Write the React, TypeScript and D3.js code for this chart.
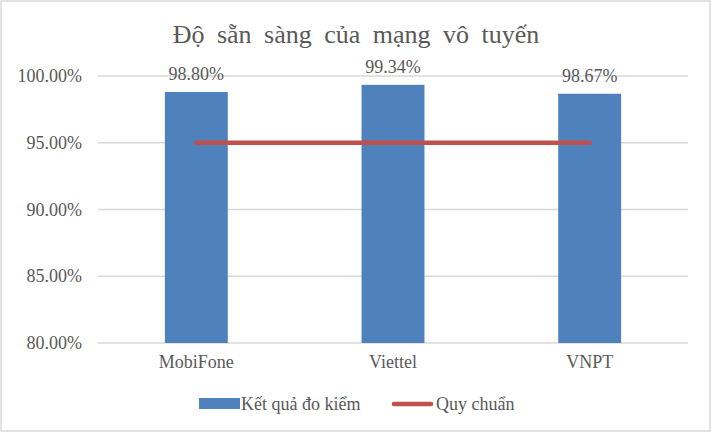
import { useMemo } from "react";
import * as d3 from "d3";

const width = 712;
const height = 434;
const margin = { top: 76, right: 24, bottom: 91, left: 98 };

const title = "Độ sẵn sàng của mạng vô tuyến";
const categories = ["MobiFone", "Viettel", "VNPT"];
const results = [98.8, 99.34, 98.67];
const standard = [95, 95, 95];
const yTicks = [80, 85, 90, 95, 100];
const legendLabels = ["Kết quả đo kiểm", "Quy chuẩn"];

const textColor = "#595959";
const gridColor = "#d9d9d9";
const barColor = "#4f81bd";
const lineColor = "#c0504d";
const font = '"Times New Roman", Times, "Liberation Serif", "DejaVu Serif", serif';

const App = () => {
  const chart = useMemo(() => {
    const x = d3
      .scaleBand<string>()
      .domain(categories)
      .range([margin.left, width - margin.right])
      .padding(0);
    const y = d3
      .scaleLinear()
      .domain([80, 100])
      .range([height - margin.bottom, margin.top]);
    const barW = x.bandwidth() * 0.32;

    const bars = categories.map((c, i) => {
      const cx = (x(c) ?? 0) + x.bandwidth() / 2;
      return {
        cx,
        x: cx - barW / 2,
        y: y(results[i]),
        h: y(80) - y(results[i]),
        label: results[i].toFixed(2) + "%",
      };
    });

    const line = d3
      .line<number>()
      .x((_, i) => (x(categories[i]) ?? 0) + x.bandwidth() / 2)
      .y((d) => y(d));

    return { x, y, barW, bars, path: line(standard) ?? "" };
  }, []);

  const { y, barW, bars, path } = chart;
  const txt = { fontFamily: font, fill: textColor };

  return (
    <svg
      width={width}
      height={height}
      style={{ position: "absolute", left: 0, top: 0, fontFamily: font }}
    >
      <rect x={0} y={0} width={width} height={height} fill="#fff" />
      <rect
        x={1}
        y={1}
        width={709}
        height={430}
        fill="#fff"
        stroke={gridColor}
        strokeWidth={1.5}
      />
      <text
        x={width / 2}
        y={43}
        textAnchor="middle"
        fontSize={26}
        style={{ ...txt, wordSpacing: "6px" }}
      >
        {title}
      </text>

      {yTicks.map((t) => (
        <g key={t}>
          <line
            x1={margin.left}
            x2={width - margin.right}
            y1={y(t)}
            y2={y(t)}
            stroke={gridColor}
            strokeWidth={1.5}
          />
          <text x={82} y={y(t) + 6} textAnchor="end" fontSize={18} style={txt}>
            {t.toFixed(2)}%
          </text>
        </g>
      ))}

      {bars.map((b, i) => (
        <g key={i}>
          <rect x={b.x} y={b.y} width={barW} height={b.h} fill={barColor} />
          <text x={b.cx} y={b.y - 12} textAnchor="middle" fontSize={18} style={txt}>
            {b.label}
          </text>
          <text x={b.cx} y={368} textAnchor="middle" fontSize={18} style={txt}>
            {categories[i]}
          </text>
        </g>
      ))}

      <path
        d={path}
        fill="none"
        stroke={lineColor}
        strokeWidth={4.5}
        strokeLinecap="round"
      />

      {/* legend */}
      <rect x={199} y={398} width={41} height={11} fill={barColor} />
      <text x={241} y={410} fontSize={18} style={txt}>
        {legendLabels[0]}
      </text>
      <line
        x1={394}
        x2={431}
        y1={404}
        y2={404}
        stroke={lineColor}
        strokeWidth={4.5}
        strokeLinecap="round"
      />
      <text x={436} y={410} fontSize={18} style={txt}>
        {legendLabels[1]}
      </text>
    </svg>
  );
};

export default App;
